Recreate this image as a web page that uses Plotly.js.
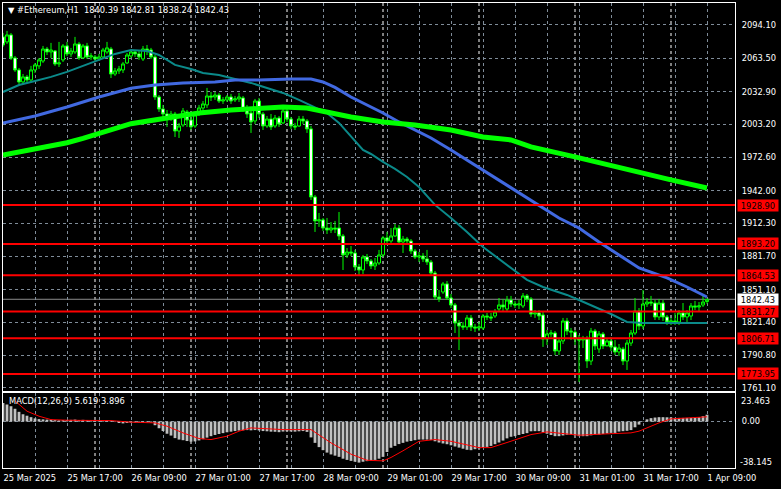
<!DOCTYPE html>
<html><head><meta charset="utf-8">
<script src="https://cdn.plot.ly/plotly-3.0.1.min.js"></script>
<style>html,body{margin:0;padding:0;background:#000;}#chart{width:781px;height:489px;}</style>
</head><body><div id="chart"></div>
<script>
const symbolText = "#Ethereum,H1";
const ohlcNow = ["1840.39", "1842.81", "1838.24", "1842.43"];
const timeLabels = ["25 Mar 2025", "25 Mar 17:00", "26 Mar 09:00", "27 Mar 01:00", "27 Mar 17:00", "28 Mar 09:00",
  "29 Mar 01:00", "29 Mar 17:00", "30 Mar 09:00", "31 Mar 01:00", "31 Mar 17:00", "1 Apr 09:00"];

const open = [
2083.1,2078.5,2084.9,2063.8,2052.8,2041.8,2046.4,2043.6,2052.8,2056.5,
2061.0,2072.0,2069.3,2070.2,2058.3,2062.0,2074.8,2067.5,2069.3,2076.6,
2063.8,2074.8,2064.7,2064.7,2062.9,2064.7,2069.3,2072.0,2049.1,2051.9,
2052.8,2059.2,2065.6,2069.3,2067.5,2062.9,2072.0,2071.1,2064.7,2028.0,
2017.0,2012.4,2007.8,2012.4,1996.8,2002.3,2014.3,2006.9,2001.4,2012.4,
2017.9,2020.7,2028.9,2028.0,2029.8,2024.3,2025.3,2028.0,2025.3,2026.2,
2027.1,2017.0,2013.3,2006.0,2024.3,2012.4,2001.4,2007.8,2001.4,2008.7,
2004.2,2015.2,2007.8,2001.4,2001.4,2007.8,2006.0,1998.7,1936.3,1914.3,
1915.2,1907.8,1906.0,1907.8,1907.8,1900.5,1883.1,1885.8,1884.9,1872.1,
1869.3,1881.2,1877.6,1873.0,1875.7,1883.1,1898.7,1895.9,1900.5,1907.8,
1895.0,1897.7,1895.9,1886.7,1881.2,1882.1,1879.4,1876.6,1866.5,1844.5,
1849.1,1856.5,1843.6,1837.2,1820.7,1817.9,1817.0,1825.3,1817.0,1816.1,
1816.1,1827.1,1826.2,1827.1,1833.5,1837.2,1833.5,1841.8,1838.1,1837.2,
1836.3,1845.5,1842.7,1828.9,1829.9,1828.0,1806.0,1810.6,1811.5,1795.0,
1804.2,1822.5,1813.3,1812.4,1806.0,1805.1,1806.0,1785.8,1813.3,1796.8,
1810.6,1799.6,1804.2,1798.7,1794.1,1796.8,1785.8,1802.3,1811.5,1831.7,
1817.9,1838.1,1839.9,1839.0,1826.2,1839.0,1826.2,1821.6,1822.5,1821.6,
1829.9,1826.2,1827.1,1836.3,1835.4,1837.2,1840.39];
const high = [
2086.7,2088.6,2086.7,2065.6,2054.6,2049.1,2048.2,2056.5,2059.2,2063.8,
2074.8,2073.9,2077.6,2071.1,2078.5,2076.6,2078.5,2073.0,2083.1,2078.5,
2076.6,2077.6,2068.4,2066.5,2067.5,2073.0,2078.5,2073.9,2054.6,2056.5,
2060.1,2068.4,2071.1,2071.1,2070.2,2074.8,2075.7,2073.0,2066.5,2029.8,
2020.7,2016.1,2015.2,2014.3,2004.2,2017.9,2016.1,2009.7,2014.3,2020.7,
2024.3,2036.3,2032.6,2032.6,2031.7,2028.0,2029.8,2030.8,2028.9,2031.7,
2028.9,2020.7,2017.9,2026.2,2027.1,2014.3,2010.6,2012.4,2011.5,2010.6,
2017.9,2017.9,2009.7,2004.2,2010.6,2010.6,2007.8,2001.4,1938.1,1921.6,
1917.0,1917.0,1913.3,1914.3,1922.5,1902.3,1889.5,1891.3,1887.7,1874.8,
1883.1,1884.0,1879.4,1880.3,1887.7,1900.5,1904.2,1907.8,1911.5,1910.6,
1900.5,1899.6,1897.7,1888.6,1885.8,1884.9,1887.7,1878.5,1868.4,1851.0,
1858.3,1859.2,1847.3,1839.0,1823.4,1821.6,1828.0,1828.0,1819.8,1821.6,
1828.9,1829.9,1829.9,1833.5,1843.6,1842.7,1845.5,1845.5,1840.9,1841.8,
1848.2,1847.3,1844.5,1832.6,1832.6,1830.8,1814.3,1814.3,1813.3,1806.9,
1825.3,1825.3,1816.1,1814.3,1809.7,1808.8,1808.8,1816.1,1815.2,1813.3,
1812.4,1806.9,1807.8,1805.1,1801.4,1798.7,1805.1,1814.3,1843.6,1834.4,
1851.0,1843.6,1845.5,1841.8,1842.7,1841.8,1828.0,1825.3,1829.9,1832.6,
1839.0,1832.6,1839.0,1840.9,1839.9,1846.4,1842.81];
const low = [
2073.9,2076.6,2062.0,2051.0,2039.9,2039.9,2040.9,2042.7,2050.0,2053.7,
2059.2,2066.5,2063.8,2056.5,2055.5,2060.1,2065.6,2064.7,2067.5,2062.0,
2062.9,2062.9,2062.0,2060.1,2061.0,2063.8,2067.5,2045.4,2047.3,2049.1,
2050.0,2058.3,2063.8,2064.7,2062.0,2061.0,2066.5,2062.9,2025.3,2014.3,
2009.7,2000.5,2006.0,1991.3,1990.4,2000.5,2000.5,1997.7,1999.6,2010.6,
2014.3,2017.9,2024.3,2025.3,2022.5,2021.6,2023.4,2021.6,2023.4,2023.4,
2014.3,2008.7,1995.0,2003.2,2008.7,1997.7,1999.6,1997.7,1999.6,2000.5,
2003.2,2005.1,1998.7,1997.7,2000.5,2003.2,1995.0,1933.5,1904.2,1908.8,
1905.1,1902.3,1903.2,1903.2,1896.8,1869.3,1880.3,1882.1,1868.4,1864.7,
1865.6,1874.8,1870.2,1869.3,1873.9,1881.2,1893.2,1893.2,1899.6,1892.2,
1884.9,1892.2,1884.0,1879.4,1876.6,1876.6,1873.9,1863.8,1841.8,1839.9,
1847.3,1841.8,1834.4,1811.5,1795.9,1814.3,1814.3,1813.3,1812.4,1813.3,
1814.3,1823.4,1822.5,1825.3,1831.7,1830.8,1830.8,1835.4,1834.4,1833.5,
1834.4,1839.9,1826.2,1825.3,1823.4,1798.7,1800.5,1807.8,1791.3,1791.3,
1801.4,1809.7,1805.1,1800.5,1766.6,1797.7,1779.4,1782.1,1795.9,1793.2,
1796.8,1800.5,1795.0,1791.3,1790.4,1782.1,1777.6,1799.6,1809.7,1814.3,
1815.2,1835.4,1836.3,1823.4,1823.4,1822.5,1818.8,1818.8,1818.8,1818.8,
1823.4,1821.6,1823.4,1832.6,1830.8,1835.4,1838.24];
const close = [
2075.7,2084.9,2063.8,2052.8,2041.8,2046.4,2043.6,2052.8,2057.4,2062.0,
2072.0,2069.3,2071.1,2058.3,2059.2,2074.8,2067.5,2070.2,2076.6,2063.8,
2074.8,2064.7,2065.6,2062.9,2064.7,2071.1,2073.0,2049.1,2051.9,2053.7,
2058.3,2066.5,2069.3,2067.5,2064.7,2072.0,2070.2,2064.7,2028.0,2017.0,
2012.4,2007.8,2012.4,1996.8,2001.4,2015.2,2006.9,2000.5,2011.5,2017.9,
2021.6,2028.9,2028.0,2029.8,2024.3,2025.3,2028.0,2024.3,2026.2,2028.0,
2017.0,2012.4,2005.1,2024.3,2012.4,2001.4,2007.8,2000.5,2008.7,2003.2,
2015.2,2007.8,2001.4,2000.5,2007.8,2006.0,1998.7,1936.3,1914.3,1915.2,
1907.8,1906.0,1907.8,1906.9,1900.5,1883.1,1885.8,1884.9,1872.1,1869.3,
1881.2,1877.6,1873.0,1875.7,1883.1,1898.7,1895.9,1900.5,1907.8,1895.0,
1897.7,1895.9,1886.7,1881.2,1882.1,1879.4,1876.6,1866.5,1844.5,1842.7,
1856.5,1843.6,1837.2,1820.7,1817.9,1817.0,1825.3,1817.0,1816.1,1817.0,
1827.1,1826.2,1825.3,1830.8,1837.2,1835.4,1841.8,1838.1,1837.2,1838.1,
1845.5,1842.7,1828.9,1829.9,1827.1,1806.0,1810.6,1811.5,1795.0,1804.2,
1822.5,1813.3,1812.4,1806.0,1805.1,1806.0,1785.8,1813.3,1799.6,1810.6,
1799.6,1804.2,1798.7,1794.1,1797.7,1785.8,1802.3,1811.5,1831.7,1817.9,
1838.1,1839.9,1839.0,1826.2,1839.0,1826.2,1821.6,1822.5,1821.6,1829.9,
1826.2,1829.9,1836.3,1835.4,1836.3,1839.9,1842.43];

// moving averages (bar index, value)
const maTealIdx = [0,4,8,12,16,20,24,28,32,36,39,43,47,50,54,58,62,66,70,74,78,81,84,87,90,92,95,98,101,104,108,112,116,120,124,128,131,135,141,144,148,152,156,160,168,176];
const maTealVal = [2032.6,2039.0,2042.7,2046.4,2051.0,2056.5,2062.0,2067.5,2071.1,2070.2,2066.5,2057.4,2053.7,2050.0,2048.2,2044.5,2040.9,2036.3,2031.7,2025.3,2018.8,2013.3,2004.2,1991.3,1979.4,1975.7,1968.4,1962.0,1954.6,1945.4,1929.0,1917.0,1904.2,1890.4,1879.4,1868.4,1860.2,1853.7,1846.4,1841.8,1835.4,1828.9,1821.6,1820.7,1820.7,1820.7];
const maBlueIdx = [0,8,16,24,32,38,45,53,58,64,72,77,80,83,87,91,95,99,103,107,112,116,120,124,129,134,139,144,149,154,159,166,171,176];
const maBlueVal = [2004.2,2010.6,2018.8,2028.0,2036.0,2039.0,2040.9,2041.8,2043.6,2043.6,2044.5,2044.5,2041.8,2036.8,2028.0,2020.7,2013.3,2005.1,1997.7,1990.4,1979.4,1970.2,1961.1,1951.9,1939.9,1928.9,1917.0,1907.8,1895.0,1883.1,1871.1,1862.0,1853.7,1844.5];
const maGreenIdx = [0,8,16,20,24,28,32,41,49,57,64,70,76,82,87,95,103,112,120,127,132,143,153,162,167,176];
const maGreenVal = [1974.8,1980.0,1986.0,1990.0,1994.8,1999.3,2003.5,2008.7,2013.3,2016.1,2017.9,2018.8,2017.9,2013.3,2009.7,2005.1,2002.3,1997.7,1991.3,1988.6,1982.2,1973.0,1963.8,1956.5,1951.9,1944.5];

const levels = [1928.90, 1893.20, 1864.53, 1831.27, 1806.71, 1773.95];
const lastPrice = 1842.43;
const priceTicks = [2094.10, 2063.50, 2032.90, 2003.20, 1972.60, 1942.00, 1912.30, 1881.70, 1851.10, 1821.40, 1790.80, 1761.10];
const daySeparators = [23, 47, 71, 95, 119, 143, 167];

const macdHist = [
15.3,14.0,12.6,10.5,8.0,6.0,4.8,3.6,2.6,2.0,
1.8,1.6,1.6,1.2,1.0,1.2,1.3,1.4,1.6,1.3,
1.4,1.2,1.0,0.9,0.9,1.1,1.3,0.6,-0.4,-1.2,
-1.5,-1.2,-0.9,-0.8,-0.9,-0.7,-0.6,-0.8,-3.0,-5.5,
-7.8,-10.0,-11.5,-13.6,-14.8,-15.3,-16.0,-16.5,-16.3,-15.5,
-14.5,-13.2,-12.0,-11.0,-10.2,-9.5,-8.8,-8.3,-7.8,-7.4,
-7.2,-7.0,-7.2,-7.0,-7.3,-7.8,-8.0,-8.3,-8.4,-8.7,
-8.2,-8.0,-8.2,-8.3,-8.0,-7.8,-8.5,-13.0,-17.5,-21.0,
-23.5,-25.5,-27.0,-28.0,-29.0,-30.5,-31.5,-32.3,-33.0,-33.7,
-33.0,-32.5,-32.0,-31.5,-30.5,-29.0,-25.0,-21.5,-20.0,-18.5,
-17.5,-16.5,-16.0,-15.3,-14.8,-14.8,-14.8,-15.2,-16.2,-17.2,
-18.0,-18.6,-19.5,-20.5,-21.4,-22.3,-23.2,-23.5,-22.7,-22.0,
-21.4,-20.8,-20.0,-18.6,-17.2,-15.6,-13.8,-12.5,-12.0,-11.0,
-10.2,-9.5,-8.0,-7.9,-7.9,-8.8,-10.0,-11.0,-12.0,-12.0,
-11.4,-10.8,-10.7,-11.2,-12.0,-12.0,-12.0,-11.3,-10.7,-10.7,
-10.2,-9.8,-9.3,-9.3,-8.2,-7.9,-7.6,-7.0,-4.7,-2.5,
-0.3,1.8,2.8,3.3,3.6,3.6,3.5,3.3,3.0,3.0,
3.0,3.0,3.0,3.3,3.6,4.4,5.619];
const signalIdx = [3,6,9,12,16,24,27,32,38,41,45,49,52,56,59,62,66,70,77,79,82,87,91,95,97,100,104,108,112,119,122,126,132,136,142,144,151,157,159,164,167,172,176];
const signalVal = [17.0,8.5,4.4,1.6,1.1,1.1,0.8,-0.5,-1.1,-3.8,-9.3,-13.9,-14.8,-12.0,-7.9,-5.2,-6.0,-6.6,-6.6,-10.7,-17.5,-26.8,-31.8,-32.3,-29.5,-24.0,-16.2,-14.8,-16.2,-21.4,-21.4,-17.2,-10.7,-8.5,-10.1,-11.2,-10.1,-9.3,-7.9,-1.1,2.2,3.0,3.896];
const macdName = "MACD(12,26,9)";
const macdMain = "5.619", macdSignal = "3.896";
const macdMax = 23.463, macdMin = -38.145;

// ---- build ----
const idx = close.map((_, i) => i);
const FONT = "DejaVu Sans";
const GRID = "#7f8c99";
const DASH = "3px,3px";

const gridVals = [], gridText = [];
for (let k = 0; k < timeLabels.length * 2 - 1; k++) {
  gridVals.push(k * 8);
  gridText.push(k % 2 === 0 ? timeLabels[k / 2] : "");
}

const traces = [
  {type: "candlestick", x: idx, open: open, high: high, low: low, close: close, xaxis: "x", yaxis: "y",
   increasing: {line: {color: "#00ff00", width: 1}, fillcolor: "#000000"},
   decreasing: {line: {color: "#00ff00", width: 1}, fillcolor: "#ffffff"},
   whiskerwidth: 0, hoverinfo: "skip", showlegend: false},
  {type: "scatter", mode: "lines", x: maTealIdx, y: maTealVal, line: {color: "#0b8a8a", width: 2}, xaxis: "x", yaxis: "y", hoverinfo: "skip", showlegend: false},
  {type: "scatter", mode: "lines", x: maBlueIdx, y: maBlueVal, line: {color: "#4169e1", width: 3}, xaxis: "x", yaxis: "y", hoverinfo: "skip", showlegend: false},
  {type: "scatter", mode: "lines", x: maGreenIdx, y: maGreenVal, line: {color: "#00ff00", width: 5}, xaxis: "x", yaxis: "y", hoverinfo: "skip", showlegend: false},
  {type: "bar", x: idx, y: macdHist, width: 0.7, marker: {color: "#c0c0c0", line: {width: 0}}, xaxis: "x2", yaxis: "y2", hoverinfo: "skip", showlegend: false},
  {type: "scatter", mode: "lines", x: signalIdx, y: signalVal, line: {color: "#ff0000", width: 1}, xaxis: "x2", yaxis: "y2", hoverinfo: "skip", showlegend: false}
];

const shapes = [];
daySeparators.forEach(d => shapes.push({type: "line", xref: "x", yref: "paper", x0: d, x1: d, y0: 0, y1: 1,
  line: {color: "#ffffff", width: 1, dash: DASH}, layer: "below"}));
shapes.push({type: "line", xref: "paper", yref: "y", x0: 0, x1: 1, y0: lastPrice, y1: lastPrice,
  line: {color: "#8c8c8c", width: 1}, layer: "below"});
levels.forEach(v => shapes.push({type: "line", xref: "paper", yref: "y", x0: 0, x1: 1, y0: v, y1: v,
  line: {color: "#ff0000", width: 2}}));

const annotations = [];
annotations.push({xref: "paper", yref: "paper", x: 0.004, y: 0.985, xanchor: "left", yanchor: "middle", showarrow: false,
  text: "▼ " + symbolText + "  " + ohlcNow.join(" "), font: {family: FONT, size: 8.3, color: "#ffffff"}});
annotations.push({xref: "paper", yref: "paper", x: 0.006, y: 0.144, xanchor: "left", yanchor: "middle", showarrow: false,
  text: macdName + " " + macdMain + " " + macdSignal, font: {family: FONT, size: 8.3, color: "#ffffff"}});
levels.forEach(v => annotations.push({xref: "paper", yref: "y", x: 1, y: v, xanchor: "left", yanchor: "middle", xshift: 2,
  showarrow: false, text: v.toFixed(2), bgcolor: "#ff0000", width: 40, height: 11, borderpad: 0,
  font: {family: FONT, size: 8.3, color: "#000000"}}));
annotations.push({xref: "paper", yref: "y", x: 1, y: lastPrice, xanchor: "left", yanchor: "middle", xshift: 2,
  showarrow: false, text: lastPrice.toFixed(2), bgcolor: "#ffffff", width: 40, height: 11, borderpad: 0,
  font: {family: FONT, size: 8.3, color: "#000000"}});
annotations.push({xref: "paper", yref: "y2", x: 1, y: macdMax, xanchor: "left", yanchor: "middle", xshift: 4, yshift: -8,
  showarrow: false, text: macdMax.toFixed(3), font: {family: FONT, size: 8.3, color: "#ffffff"}});
annotations.push({xref: "paper", yref: "y2", x: 1, y: macdMin, xanchor: "left", yanchor: "middle", xshift: 3, yshift: 6,
  showarrow: false, text: macdMin.toFixed(3), font: {family: FONT, size: 8.3, color: "#ffffff"}});

const axCommon = {showline: true, mirror: true, linecolor: "#ffffff", linewidth: 1, zeroline: false,
  showgrid: true, gridcolor: GRID, griddash: DASH, gridwidth: 1, fixedrange: true, ticks: ""};

const layout = {
  width: 781, height: 489,
  margin: {l: 3, r: 46, t: 3, b: 21, pad: 0},
  paper_bgcolor: "#000000", plot_bgcolor: "#000000",
  font: {family: FONT, size: 8.3, color: "#ffffff"},
  showlegend: false,
  boxgap: 0.2, boxgroupgap: 0.05,
  xaxis: Object.assign({}, axCommon, {domain: [0, 1], anchor: "y", range: [0, 183], autorange: false,
    tickvals: gridVals, showticklabels: false, rangeslider: {visible: false}}),
  yaxis: Object.assign({}, axCommon, {domain: [0.1656, 1], anchor: "x", side: "right", range: [1758.3, 2114.2], autorange: false,
    tickvals: priceTicks, ticktext: priceTicks.map(v => v.toFixed(2)), ticklabelstandoff: 4,
    tickfont: {family: FONT, size: 8.3, color: "#ffffff"}}),
  xaxis2: Object.assign({}, axCommon, {domain: [0, 1], anchor: "y2", matches: "x", range: [0, 183], autorange: false,
    tickvals: gridVals, ticktext: gridText, ticklabelposition: "outside right", ticklabelstandoff: 2,
    tickfont: {family: FONT, size: 8.3, color: "#ffffff"}}),
  yaxis2: Object.assign({}, axCommon, {domain: [0, 0.1613], anchor: "x2", side: "right", range: [macdMin, macdMax], autorange: false,
    tickvals: [0], ticktext: ["0.00"], ticklabelstandoff: 4, tickfont: {family: FONT, size: 8.3, color: "#ffffff"}}),
  shapes: shapes,
  annotations: annotations
};

Plotly.newPlot("chart", traces, layout, {staticPlot: true, displayModeBar: false});
</script>
</body></html>
